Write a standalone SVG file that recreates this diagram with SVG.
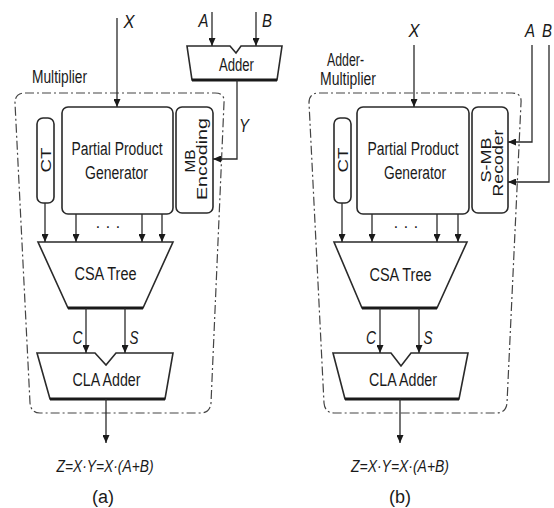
<svg xmlns="http://www.w3.org/2000/svg" width="554" height="508" viewBox="0 0 554 508">
<style>
.t{font-family:"Liberation Sans",Arial,sans-serif;fill:#1a1a1a;text-anchor:middle}
.i{font-style:italic}
.box{fill:#fff;stroke:#2a2a2a;stroke-width:1.6}
.sh{fill:none;stroke:#1a1a1a;stroke-width:2.8}
.cont{fill:none;stroke:#444;stroke-width:1.2;stroke-dasharray:9 3 2 3}
.ln{fill:none;stroke:#2a2a2a;stroke-width:1.3;marker-end:url(#ah)}
</style>
<defs>
<marker id="ah" markerUnits="userSpaceOnUse" markerWidth="8" markerHeight="7" refX="8" refY="3.5" orient="auto">
<path d="M0,0 L8,3.5 L0,7 z" fill="#1a1a1a"/>
</marker>
</defs>
<rect width="554" height="508" fill="#fff"/>

<!-- ===== (a) ===== -->
<g id="a-container">
<path class="cont" d="M25,93 H215 Q225,93 224,103 L211,403 Q210,413 200,413 H40 Q31,413 30,403 L15,103 Q15,93 25,93 Z"/>
<text class="t" x="59.5" y="83" font-size="18" textLength="55" lengthAdjust="spacingAndGlyphs">Multiplier</text>
</g>
<g id="a-adder">
<path class="box" d="M187,46 L230,46 L236,53 L241,46 L282,46 L277,80 L192,80 Z"/>
<line class="sh" x1="192" y1="80" x2="277" y2="80"/>
<text class="t" x="236.5" y="71" font-size="18" textLength="35" lengthAdjust="spacingAndGlyphs">Adder</text>
</g>
<g id="a-ct">
<rect class="box" x="37" y="118" width="17" height="85" rx="6"/>
<text class="t" transform="translate(51,160) rotate(-90)" font-size="15" textLength="25" lengthAdjust="spacingAndGlyphs">CT</text>
</g>
<g id="a-ppg">
<rect class="box" x="62" y="107" width="111" height="107" rx="6"/>
<text class="t" x="117" y="155" font-size="18" textLength="91" lengthAdjust="spacingAndGlyphs">Partial Product</text>
<text class="t" x="116.5" y="179" font-size="18" textLength="63" lengthAdjust="spacingAndGlyphs">Generator</text>
</g>
<g id="a-mb">
<rect class="box" x="176" y="107" width="37" height="106" rx="6"/>
<text class="t" transform="translate(194.5,161) rotate(-90)" font-size="15" textLength="23" lengthAdjust="spacingAndGlyphs">MB</text>
<text class="t" transform="translate(207,159) rotate(-90)" font-size="15" textLength="82" lengthAdjust="spacingAndGlyphs">Encoding</text>
</g>
<g id="a-csa">
<path class="box" d="M38,242 L173,242 L143,308 L68,308 Z"/>
<line class="sh" x1="68" y1="308" x2="143" y2="308"/>
<text class="t" x="105.5" y="280" font-size="18" textLength="62" lengthAdjust="spacingAndGlyphs">CSA Tree</text>
</g>
<g id="a-cla">
<path class="box" d="M37,353 L95,353 L106,365 L116,353 L173,353 L165,399 L50,399 Z"/>
<line class="sh" x1="50" y1="399" x2="165" y2="399"/>
<text class="t" x="106.5" y="386" font-size="18" textLength="68" lengthAdjust="spacingAndGlyphs">CLA Adder</text>
</g>

<!-- ===== (b) ===== -->
<g id="b-container">
<path class="cont" d="M319,93 H512 Q522,93 521,103 L507,403 Q506,413 496,413 H334 Q325,413 324,403 L309,103 Q309,93 319,93 Z"/>
<text class="t" x="345.5" y="66" font-size="18" textLength="37" lengthAdjust="spacingAndGlyphs">Adder-</text>
<text class="t" x="348" y="85" font-size="18" textLength="56" lengthAdjust="spacingAndGlyphs">Multiplier</text>
</g>
<g id="b-ct">
<rect class="box" x="334" y="118" width="17" height="85" rx="6"/>
<text class="t" transform="translate(348,160) rotate(-90)" font-size="15" textLength="25" lengthAdjust="spacingAndGlyphs">CT</text>
</g>
<g id="b-ppg">
<rect class="box" x="357" y="107" width="112" height="107" rx="6"/>
<text class="t" x="413" y="155" font-size="18" textLength="91" lengthAdjust="spacingAndGlyphs">Partial Product</text>
<text class="t" x="415" y="179" font-size="18" textLength="62" lengthAdjust="spacingAndGlyphs">Generator</text>
</g>
<g id="b-smb">
<rect class="box" x="472" y="107" width="36" height="106" rx="6"/>
<text class="t" transform="translate(490.5,160) rotate(-90)" font-size="15" textLength="45" lengthAdjust="spacingAndGlyphs">S-MB</text>
<text class="t" transform="translate(503,163) rotate(-90)" font-size="15" textLength="67" lengthAdjust="spacingAndGlyphs">Recoder</text>
</g>
<g id="b-csa">
<path class="box" d="M334,242 L467,242 L437,308 L362,308 Z"/>
<line class="sh" x1="362" y1="308" x2="437" y2="308"/>
<text class="t" x="400.5" y="281" font-size="18" textLength="62" lengthAdjust="spacingAndGlyphs">CSA Tree</text>
</g>
<g id="b-cla">
<path class="box" d="M333,353 L391,353 L401,366 L411,353 L468,353 L459,399 L345,399 Z"/>
<line class="sh" x1="345" y1="399" x2="459" y2="399"/>
<text class="t" x="403" y="386" font-size="18" textLength="68" lengthAdjust="spacingAndGlyphs">CLA Adder</text>
</g>

<!-- ===== connectors ===== -->
<g id="connectors">
<path class="ln" d="M117,18 V107"/>
<path class="ln" d="M212,12 V46"/>
<path class="ln" d="M256,12 V46"/>
<path class="ln" d="M237,80 V159 H213"/>
<path class="ln" d="M45,203 V242"/>
<path class="ln" d="M76,214 V242"/>
<path class="ln" d="M142,214 V242"/>
<path class="ln" d="M162,214 V242"/>
<path class="ln" d="M86,308 V353"/>
<path class="ln" d="M125,308 V353"/>
<path class="ln" d="M106,399 V443"/>

<path class="ln" d="M414,45 V107"/>
<path class="ln" d="M532,45 V142 H508"/>
<path class="ln" d="M549,45 V182 H508"/>
<path class="ln" d="M342,203 V242"/>
<path class="ln" d="M372,214 V242"/>
<path class="ln" d="M437,214 V242"/>
<path class="ln" d="M458,214 V242"/>
<path class="ln" d="M380,308 V353"/>
<path class="ln" d="M419,308 V353"/>
<path class="ln" d="M400,399 V443"/>
</g>

<!-- labels -->
<g id="labels">
<text class="t i" x="129" y="28" font-size="18" textLength="11" lengthAdjust="spacingAndGlyphs">X</text>
<text class="t i" x="203.5" y="27" font-size="18" textLength="10" lengthAdjust="spacingAndGlyphs">A</text>
<text class="t i" x="267" y="27" font-size="18" textLength="10" lengthAdjust="spacingAndGlyphs">B</text>
<text class="t i" x="244" y="132" font-size="18" textLength="10" lengthAdjust="spacingAndGlyphs">Y</text>
<text class="t" x="98" y="232" font-size="16">·</text>
<text class="t" x="108" y="232" font-size="16">·</text>
<text class="t" x="118" y="232" font-size="16">·</text>
<text class="t i" x="77.5" y="344" font-size="18" textLength="10" lengthAdjust="spacingAndGlyphs">C</text>
<text class="t i" x="134" y="344" font-size="18" textLength="9" lengthAdjust="spacingAndGlyphs">S</text>
<text class="t i" x="105" y="472" font-size="17" textLength="97" lengthAdjust="spacingAndGlyphs">Z=X·Y=X·(A+B)</text>
<text class="t" x="103" y="503" font-size="18">(a)</text>

<text class="t i" x="414" y="37" font-size="18" textLength="11" lengthAdjust="spacingAndGlyphs">X</text>
<text class="t i" x="530" y="37" font-size="18" textLength="10" lengthAdjust="spacingAndGlyphs">A</text>
<text class="t i" x="547" y="37" font-size="18" textLength="10" lengthAdjust="spacingAndGlyphs">B</text>
<text class="t" x="396" y="232" font-size="16">·</text>
<text class="t" x="406" y="232" font-size="16">·</text>
<text class="t" x="416" y="232" font-size="16">·</text>
<text class="t i" x="371" y="344" font-size="18" textLength="10" lengthAdjust="spacingAndGlyphs">C</text>
<text class="t i" x="428" y="344" font-size="18" textLength="9" lengthAdjust="spacingAndGlyphs">S</text>
<text class="t i" x="400" y="472" font-size="17" textLength="98" lengthAdjust="spacingAndGlyphs">Z=X·Y=X·(A+B)</text>
<text class="t" x="400" y="503" font-size="18">(b)</text>
</g>
</svg>
